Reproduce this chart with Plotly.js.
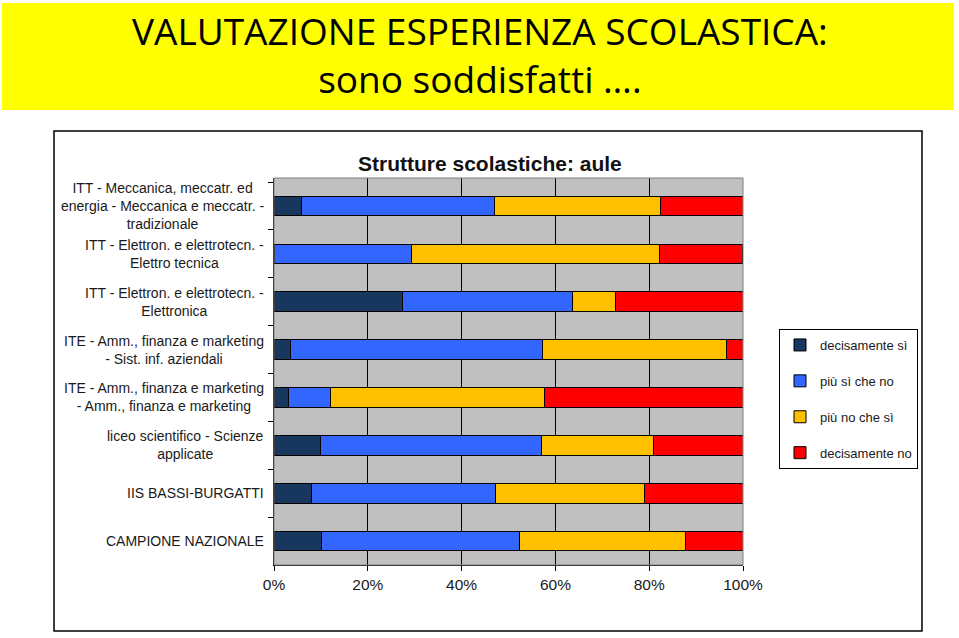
<!DOCTYPE html>
<html>
<head>
<meta charset="utf-8">
<script src="https://cdn.plot.ly/plotly-3.0.1.min.js"></script>
<style>html,body{margin:0;padding:0;background:#fff;}#chart{width:959px;height:638px;}</style>
</head>
<body>
<div id="chart"></div>
<script>
// Categories, top to bottom
const categories = [
  "ITT - Meccanica, meccatr. ed<br>energia - Meccanica e meccatr. -<br>tradizionale",
  "ITT - Elettron. e elettrotecn. -<br>Elettro tecnica",
  "ITT - Elettron. e elettrotecn. -<br>Elettronica",
  "ITE - Amm., finanza e marketing<br>- Sist. inf. aziendali",
  "ITE - Amm., finanza e marketing<br>- Amm., finanza e marketing",
  "liceo scientifico - Scienze<br>applicate",
  "IIS BASSI-BURGATTI",
  "CAMPIONE NAZIONALE"
];
const seriesNames = ["decisamente sì", "più sì che no", "più no che sì", "decisamente no"];
const decisamenteSi = [5.9, 0, 27.3, 3.6, 3.0, 10.0, 8.0, 10.2];
const piuSiCheNo    = [41.2, 29.4, 36.4, 53.6, 9.1, 47.0, 39.3, 42.1];
const piuNoCheSi    = [35.3, 52.9, 9.1, 39.3, 45.5, 24.0, 31.7, 35.5];
const decisamenteNo = [17.6, 17.6, 27.3, 3.6, 42.4, 19.0, 21.0, 12.2];
const xTickVals = [0, 20, 40, 60, 80, 100];
const xTickText = ["0%", "20%", "40%", "60%", "80%", "100%"];

const seriesValues = [decisamenteSi, piuSiCheNo, piuNoCheSi, decisamenteNo];
const colors = ["#17375E", "#3366FF", "#FFC000", "#FF0000"];

const W = 959, H = 638;
const px = v => v / W;
const py = v => 1 - v / H;

const traces = seriesValues.map((vals, i) => ({
  type: "bar",
  orientation: "h",
  name: seriesNames[i],
  y: categories,
  x: vals,
  marker: { color: colors[i], line: { color: "#000", width: 1 } },
  width: 0.41,
  legendgroup: "g" + i,
  hoverinfo: "x+name"
}));

const catAnnotations = categories.map(c => ({
  xref: "paper", yref: "y", x: px(266), y: c,
  xanchor: "right", yanchor: "middle", align: "center",
  text: c, showarrow: false,
  font: { family: "Liberation Sans, Arial, sans-serif", size: 14, color: "#1a1a1a" }
}));

const layout = {
  width: W, height: H,
  margin: { l: 0, r: 0, t: 0, b: 0 },
  paper_bgcolor: "#ffffff",
  plot_bgcolor: "#C0C0C0",
  barmode: "stack",
  showlegend: true,
  legend: {
    x: px(779), y: py(329), xanchor: "left", yanchor: "top",
    bgcolor: "#ffffff", bordercolor: "#000", borderwidth: 1,
    traceorder: "grouped", tracegroupgap: 16, itemwidth: 30,
    font: { family: "Liberation Sans, Arial, sans-serif", size: 13, color: "#1a1a1a" }
  },
  xaxis: {
    domain: [px(274), px(743)],
    range: [0, 100],
    tickvals: xTickVals, ticktext: xTickText,
    showgrid: true, gridcolor: "#000", gridwidth: 1,
    zeroline: false,
    showline: true, linecolor: "#000", linewidth: 1,
    ticks: "outside", ticklen: 5, tickcolor: "#000",
    tickfont: { family: "Liberation Sans, Arial, sans-serif", size: 15.5, color: "#1a1a1a" }
  },
  yaxis: {
    domain: [py(565), py(178)],
    type: "category",
    categoryorder: "array", categoryarray: categories,
    autorange: "reversed",
    showticklabels: false,
    showgrid: false, zeroline: false,
    showline: true, linecolor: "#000", linewidth: 1,
    ticks: "outside", ticklen: 5, tickcolor: "#000", tickson: "boundaries"
  },
  shapes: [
    { type: "rect", xref: "paper", yref: "paper", layer: "below",
      x0: px(2), x1: px(954), y0: py(110), y1: py(3),
      fillcolor: "#FFFF00", line: { width: 0 } },
    { type: "rect", xref: "paper", yref: "paper", layer: "below",
      x0: px(54), x1: px(922), y0: py(631), y1: py(131),
      fillcolor: "rgba(0,0,0,0)", line: { color: "#000", width: 1.5 } },
    { type: "rect", xref: "paper", yref: "paper", layer: "above",
      x0: px(274), x1: px(743), y0: py(565), y1: py(178),
      fillcolor: "rgba(0,0,0,0)", line: { color: "#808080", width: 1 } }
  ],
  annotations: [
    { xref: "paper", yref: "paper", x: px(480), y: py(54), xanchor: "center", yanchor: "middle",
      text: "VALUTAZIONE ESPERIENZA SCOLASTICA:<br>sono soddisfatti ….", showarrow: false,
      font: { family: "Open Sans, sans-serif", size: 37, color: "#000" } },
    { xref: "paper", yref: "paper", x: px(490), y: py(163), xanchor: "center", yanchor: "middle",
      text: "<b>Strutture scolastiche: aule</b>", showarrow: false,
      font: { family: "Liberation Sans, Arial, sans-serif", size: 21, color: "#111" } }
  ].concat(catAnnotations)
};

Plotly.newPlot("chart", traces, layout, { displayModeBar: false, staticPlot: true });
</script>
</body>
</html>
